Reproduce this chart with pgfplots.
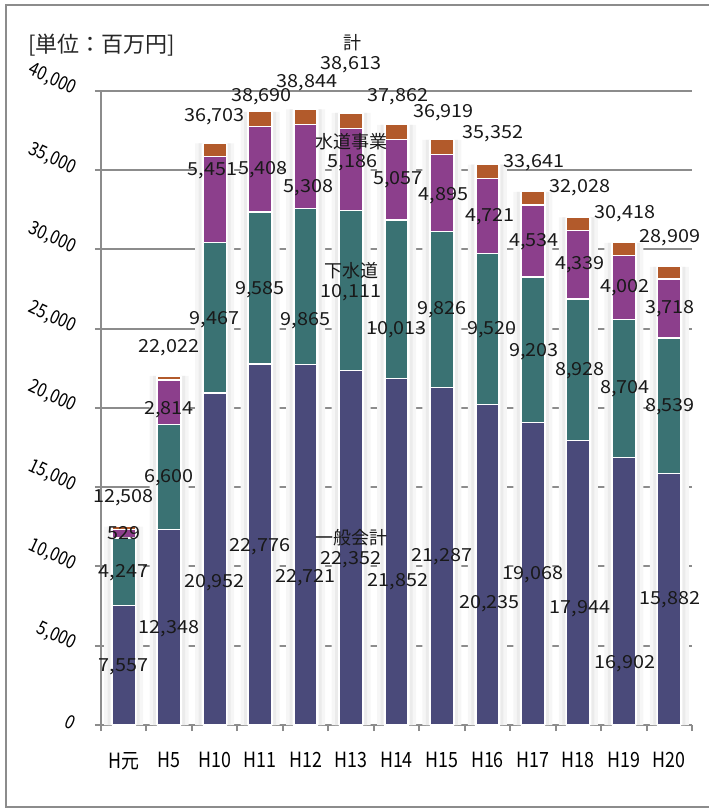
\documentclass[border=0pt]{standalone}
\usepackage{fontspec}
\setmainfont{Noto Sans CJK JP}
\newfontfamily\narrowfont[FakeStretch=0.85]{Noto Sans CJK JP}
\newfontfamily\widefont[FakeStretch=1.1]{Noto Sans CJK JP}
\usepackage{pgfplots}
\usepackage{pgfplotstable}
\pgfplotsset{compat=1.18}

\definecolor{cIppan}{HTML}{4A4A7A}
\definecolor{cGesui}{HTML}{3A7273}
\definecolor{cSuido}{HTML}{8C3F8C}
\definecolor{cOther}{HTML}{B25A2B}
\definecolor{cGrid}{HTML}{8C8C8C}

% 一般会計 / 下水道 / 水道事業 / その他 / 計  [百万円]
\pgfplotstableread{
x ippan gesui suido other total
0  7557  4247  529 175 12508
1 12348  6600 2814 260 22022
2 20952  9467 5451 833 36703
3 22776  9585 5408 921 38690
4 22721  9865 5308 950 38844
5 22352 10111 5186 964 38613
6 21852 10013 5057 940 37862
7 21287  9826 4895 911 36919
8 20235  9520 4721 876 35352
9 19068  9203 4534 836 33641
10 17944 8928 4339 817 32028
11 16902 8704 4002 810 30418
12 15882 8539 3718 770 28909
}\datatable

% value labels, where the original chart puts them
\pgfplotstableread{
lx ly t
0 14321 12,508
0 12113 529
0 9590 4,247
0 3659 7,557
1 23785 22,022
1 19874 2,814
1 15583 6,600
1 6057 12,348
2 38359 36,703
1.95 34952 5,451
2 25552 9,467
2 8959 20,952
3.03 39621 38,690
3.06 35015 5,408
3 27444 9,585
3 11230 22,776
4.03 40504 38,844
4.06 33879 5,308
4 25488 9,865
4 9274 22,721
5 41640 38,613
5.03 35457 5,186
5 27255 10,111
5 10410 22,352
6.03 39621 37,862
6.03 34384 5,057
6 24921 10,013
6.03 9022 21,852
7.03 38611 36,919
7.03 33375 4,895
7 26182 9,826
7 10599 21,287
8.12 37286 35,352
8.06 32050 4,721
8.1 24921 9,520
8.05 7634 20,235
9.02 35457 33,641
9.02 30472 4,534
9.02 23533 9,203
9 9464 19,068
10.04 33879 32,028
10.04 29021 4,339
10.04 22334 8,928
10.04 7318 17,944
11.03 32239 30,418
11.03 27570 4,002
11.03 21198 8,704
11.03 3848 16,902
12.02 30725 28,909
12.02 26245 3,718
12.02 20063 8,539
12.02 7886 15,882
}\labtable

% series names
\pgfplotstableread{
lx ly t
5.03 43027 計
5 36782 水道事業
5 28643 下水道
5 11798 一般会計
}\nametable

\pgfplotsset{
  base/.style={
    at={(0,0)}, anchor=south west,
    scale only axis, width=295.5pt, height=317pt,
    xmin=-0.5, xmax=12.5, ymin=0, ymax=40000,
  },
}

\begin{document}
\begin{tikzpicture}
\useasboundingbox (-50.5pt,-42pt) rectangle (303.5pt,362.5pt);

% grid, axes, glow behind the bars
\begin{axis}[base,
    ybar, bar shift=0pt,
    axis x line*=bottom, axis y line*=left,
    axis line style={cGrid, line width=1pt},
    tick style={cGrid, line width=1pt},
    tick align=outside, major tick length=3pt,
    ytick={0,5000,...,40000},
    ymajorgrids, major grid style={cGrid, line width=1pt},
    scaled y ticks=false,
    /pgf/number format/.cd, 1000 sep={,}, assume math mode=true, /pgfplots/.cd,
    yticklabel style={font=\narrowfont\fontsize{9.5}{10}\selectfont,
      xshift=-7pt, yshift=-1pt, rotate=-25, anchor=east},
    xtick={-0.5,0.5,...,12.5},
    xticklabels={H元,H5,H10,H11,H12,H13,H14,H15,H16,H17,H18,H19,H20,{}},
    xticklabel style={font=\narrowfont\fontsize{10.5}{12}\selectfont,
      xshift=11.365pt, yshift=-7pt},
  ]
  \addplot[fill=gray!7, draw=none, bar width=19.5pt] table[x=x,y=total]{\datatable};
  \addplot[fill=gray!16, draw=none, bar width=16pt] table[x=x,y=total]{\datatable};
  \addplot[fill=white, draw=none, bar width=13pt] table[x=x,y=total]{\datatable};
\end{axis}

% stacked bars
\begin{axis}[base, hide axis, ybar stacked, bar width=11.5pt]
  \addplot[fill=cIppan, draw=white, line width=0.6pt] table[x=x,y=ippan]{\datatable};
  \addplot[fill=cGesui, draw=white, line width=0.6pt] table[x=x,y=gesui]{\datatable};
  \addplot[fill=cSuido, draw=white, line width=0.6pt] table[x=x,y=suido]{\datatable};
  \addplot[fill=cOther, draw=white, line width=0.6pt] table[x=x,y=other]{\datatable};
\end{axis}

% labels
\begin{axis}[base, hide axis, clip=false]
  \addplot[draw=none, nodes near coords, point meta=explicit symbolic,
    nodes near coords align=center,
    every node near coord/.append style={font=\widefont\fontsize{9}{10}\selectfont,
      inner sep=0pt, text=black!90}]
    table[x=lx, y=ly, meta=t]{\labtable};
  \addplot[draw=none, nodes near coords, point meta=explicit symbolic,
    nodes near coords align=center,
    every node near coord/.append style={font=\fontsize{9}{10}\selectfont,
      inner sep=0pt, text=black!90}]
    table[x=lx, y=ly, meta=t]{\nametable};
  \node[anchor=west, font=\fontsize{11}{12}\selectfont, text=black!85]
    at (rel axis cs:-0.1353,1.0726) {[単位：百万円]};
\end{axis}

% outer frame
\draw[cGrid, line width=1pt] (-47.5pt,-41pt) rectangle (306pt,360pt);
\end{tikzpicture}
\end{document}
